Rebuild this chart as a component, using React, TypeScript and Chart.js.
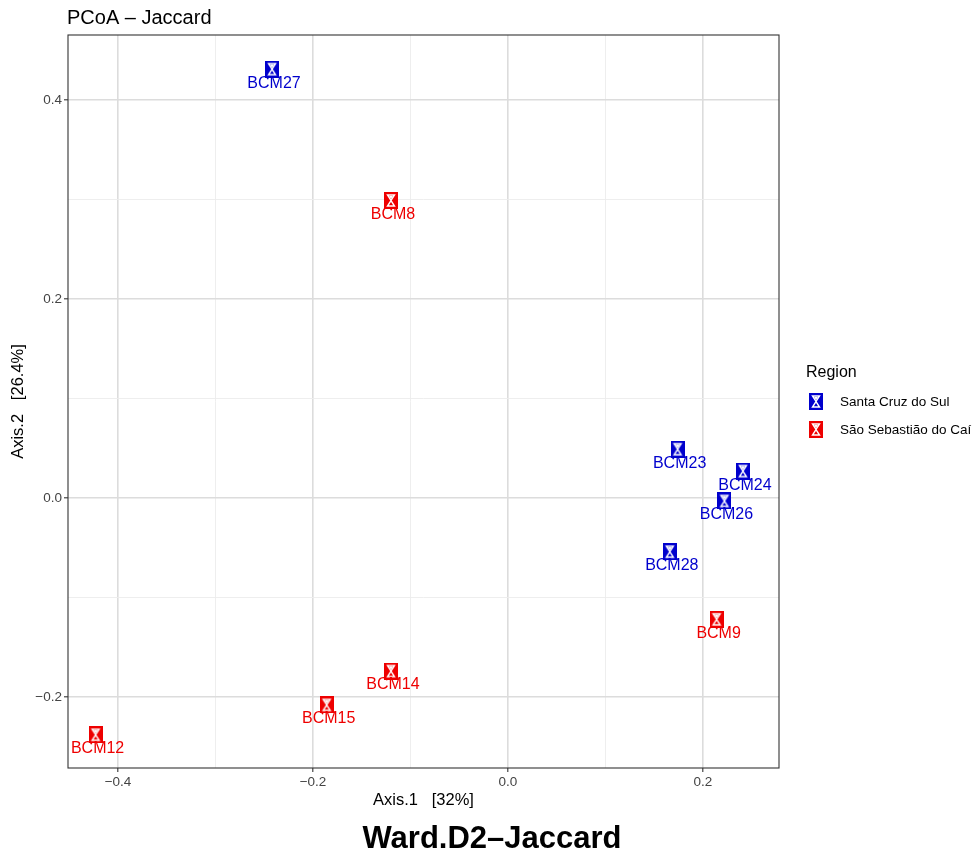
import React, { useEffect, useRef } from "react";
import { Chart, registerables } from "chart.js";

Chart.register(...registerables);

const santaLabels = ["BCM27", "BCM23", "BCM24", "BCM26", "BCM28"];
const santaX = [-0.242, 0.174, 0.241, 0.222, 0.166];
const santaY = [0.431, 0.049, 0.027, -0.003, -0.054];

const saoLabels = ["BCM8", "BCM9", "BCM14", "BCM15", "BCM12"];
const saoX = [-0.12, 0.214, -0.12, -0.186, -0.423];
const saoY = [0.299, -0.122, -0.174, -0.208, -0.238];

const xTicks = [-0.4, -0.3, -0.2, -0.1, 0.0, 0.1, 0.2];
const yTicks = [-0.2, -0.1, 0.0, 0.1, 0.2, 0.3, 0.4];

const BLUE = "#0000CD";
const RED = "#EE0000";
const FONT = "'Liberation Sans', Arial, Helvetica, sans-serif";

function makeMarker(color: string): HTMLCanvasElement {
  const c = document.createElement("canvas");
  c.width = 14;
  c.height = 17;
  const g = c.getContext("2d")!;
  g.fillStyle = color;
  g.fillRect(0, 0, 14, 17);
  g.strokeStyle = "#ffffff";
  g.lineWidth = 1.4;
  g.beginPath();
  g.moveTo(3.5, 3);
  g.lineTo(10.5, 3);
  g.lineTo(7, 8.5);
  g.closePath();
  g.moveTo(3.5, 14);
  g.lineTo(10.5, 14);
  g.lineTo(7, 8.5);
  g.closePath();
  g.stroke();
  g.fillStyle = "#ffffff";
  g.beginPath();
  g.moveTo(5, 4);
  g.lineTo(9, 4);
  g.lineTo(7, 7);
  g.closePath();
  g.fill();
  return c;
}

const isMajor = (v: number) => Math.abs(Math.round(v * 10)) % 2 === 0;
const fmt = (v: number) => {
  const s = Math.abs(v).toFixed(1);
  return v < -1e-9 ? "\u2212" + s : s;
};

export default function App() {
  const ref = useRef<HTMLCanvasElement | null>(null);

  useEffect(() => {
    document.body.style.margin = "0";
    const blueM = makeMarker(BLUE);
    const redM = makeMarker(RED);

    const labelPlugin = {
      id: "extras",
      afterDatasetsDraw(chart: any) {
        const ctx = chart.ctx;
        ctx.save();
        ctx.font = `16px ${FONT}`;
        ctx.textAlign = "center";
        ctx.textBaseline = "middle";
        chart.data.datasets.forEach((ds: any, di: number) => {
          const meta = chart.getDatasetMeta(di);
          const names = di === 0 ? santaLabels : saoLabels;
          ctx.fillStyle = di === 0 ? BLUE : RED;
          meta.data.forEach((pt: any, i: number) => {
            ctx.fillText(names[i], pt.x + 2, pt.y + 14);
          });
        });
        ctx.restore();
      },
      afterDraw(chart: any) {
        const ctx = chart.ctx;
        const a = chart.chartArea;
        ctx.save();
        ctx.strokeStyle = "#333333";
        ctx.lineWidth = 1.1;
        ctx.strokeRect(a.left, a.top, a.right - a.left, a.bottom - a.top);

        ctx.fillStyle = "#000000";
        ctx.font = `20px ${FONT}`;
        ctx.textAlign = "left";
        ctx.textBaseline = "middle";
        ctx.fillText("PCoA \u2013 Jaccard", 67, 18);

        ctx.font = `16.5px ${FONT}`;
        ctx.textAlign = "center";
        ctx.fillText("Axis.1   [32%]", (a.left + a.right) / 2, 800);

        ctx.save();
        ctx.translate(18, (a.top + a.bottom) / 2);
        ctx.rotate(-Math.PI / 2);
        ctx.fillText("Axis.2   [26.4%]", 0, 0);
        ctx.restore();

        ctx.font = `bold 31px ${FONT}`;
        ctx.fillText("Ward.D2\u2013Jaccard", 492, 839);

        // legend
        ctx.textAlign = "left";
        ctx.font = `16px ${FONT}`;
        ctx.fillText("Region", 806, 373);
        ctx.font = `13.5px ${FONT}`;
        ctx.drawImage(blueM, 809, 393);
        ctx.fillText("Santa Cruz do Sul", 840, 402);
        ctx.drawImage(redM, 809, 421);
        ctx.fillText("S\u00e3o Sebasti\u00e3o do Ca\u00ed", 840, 430);
        ctx.restore();
      },
    };

    const gridOpts = {
      color: (c: any) => (c.tick && isMajor(c.tick.value) ? "#dcdcdc" : "#ececec"),
      lineWidth: (c: any) => (c.tick && isMajor(c.tick.value) ? 1.6 : 0.9),
      tickLength: 4,
      tickColor: (c: any) => (c.tick && isMajor(c.tick.value) ? "#333333" : "rgba(0,0,0,0)"),
      tickWidth: 1.1,
    };
    const tickOpts = {
      autoSkip: false,
      maxRotation: 0,
      padding: 2,
      color: "#444444",
      font: { family: FONT, size: 13.5 },
      callback: (v: any) => (isMajor(Number(v)) ? fmt(Number(v)) : ""),
    };

    const chart = new Chart(ref.current!, {
      type: "scatter",
      data: {
        datasets: [
          {
            label: "Santa Cruz do Sul",
            data: santaX.map((x, i) => ({ x, y: santaY[i] })),
            pointStyle: blueM as any,
            backgroundColor: BLUE,
            borderColor: BLUE,
          },
          {
            label: "São Sebastião do Caí",
            data: saoX.map((x, i) => ({ x, y: saoY[i] })),
            pointStyle: redM as any,
            backgroundColor: RED,
            borderColor: RED,
          },
        ],
      },
      options: {
        animation: false,
        responsive: false,
        layout: { padding: { left: 28, right: 197, top: 35, bottom: 60 } },
        plugins: { legend: { display: false }, tooltip: { enabled: false }, title: { display: false } },
        scales: {
          x: {
            type: "linear",
            min: -0.4513,
            max: 0.278,
            afterBuildTicks: (s: any) => {
              s.ticks = xTicks.map((v) => ({ value: v }));
            },
            afterFit: (s: any) => {
              s.height = 30;
            },
            border: { display: false },
            grid: gridOpts,
            ticks: tickOpts,
          },
          y: {
            type: "linear",
            min: -0.2714,
            max: 0.4653,
            afterBuildTicks: (s: any) => {
              s.ticks = yTicks.map((v) => ({ value: v }));
            },
            afterFit: (s: any) => {
              s.width = 40;
            },
            border: { display: false },
            grid: gridOpts,
            ticks: tickOpts,
          },
        },
      },
      plugins: [labelPlugin],
    } as any);

    return () => chart.destroy();
  }, []);

  return (
    <div style={{ width: 976, height: 858, background: "#ffffff" }}>
      <canvas ref={ref} width={976} height={858} style={{ display: "block" }} />
    </div>
  );
}
